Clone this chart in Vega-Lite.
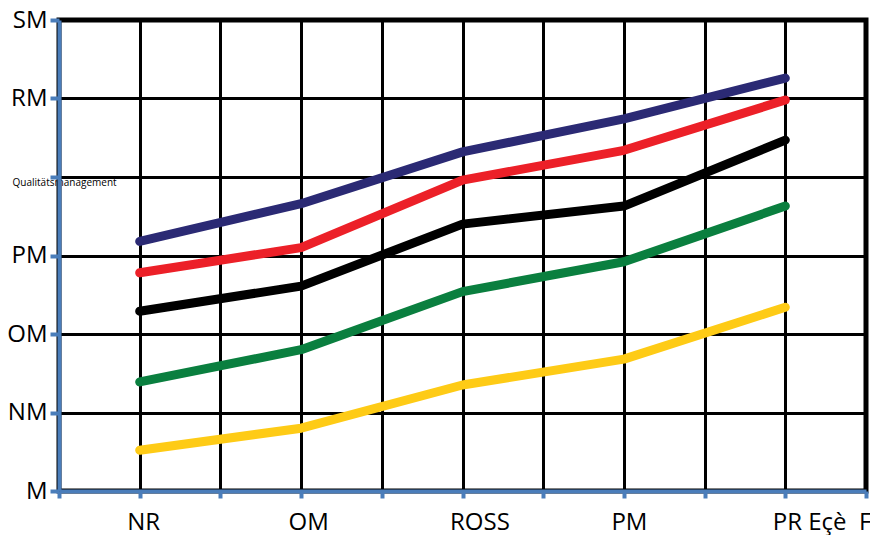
{
  "$schema": "https://vega.github.io/schema/vega-lite/v6.json",
  "width": 807,
  "height": 471,
  "autosize": {"type": "none"},
  "padding": {"left": 59, "top": 20, "right": 4, "bottom": 44},
  "background": "white",
  "config": {
    "font": "Open Sans",
    "view": {"stroke": "black", "strokeWidth": 5}
  },
  "data": {
    "values": [
      {"series": "blue", "x": 1, "y": 31.8},
      {"series": "blue", "x": 3, "y": 36.6},
      {"series": "blue", "x": 5, "y": 43.2},
      {"series": "blue", "x": 7, "y": 47.4},
      {"series": "blue", "x": 9, "y": 52.6},
      {"series": "red", "x": 1, "y": 27.8},
      {"series": "red", "x": 3, "y": 31.0},
      {"series": "red", "x": 5, "y": 39.6},
      {"series": "red", "x": 7, "y": 43.4},
      {"series": "red", "x": 9, "y": 49.8},
      {"series": "black", "x": 1, "y": 22.9},
      {"series": "black", "x": 3, "y": 26.1},
      {"series": "black", "x": 5, "y": 34.0},
      {"series": "black", "x": 7, "y": 36.3},
      {"series": "black", "x": 9, "y": 44.7},
      {"series": "green", "x": 1, "y": 13.9},
      {"series": "green", "x": 3, "y": 18.0},
      {"series": "green", "x": 5, "y": 25.4},
      {"series": "green", "x": 7, "y": 29.2},
      {"series": "green", "x": 9, "y": 36.3},
      {"series": "yellow", "x": 1, "y": 5.2},
      {"series": "yellow", "x": 3, "y": 8.0},
      {"series": "yellow", "x": 5, "y": 13.5},
      {"series": "yellow", "x": 7, "y": 16.8},
      {"series": "yellow", "x": 9, "y": 23.4}
    ]
  },
  "mark": {"type": "line", "strokeWidth": 9, "strokeCap": "round", "strokeJoin": "round"},
  "encoding": {
    "x": {
      "field": "x",
      "type": "quantitative",
      "scale": {"domain": [0, 10], "nice": false, "zero": false},
      "axis": {
        "title": null,
        "values": [0, 1, 2, 3, 4, 5, 6, 7, 8, 9, 10],
        "labelExpr": "datum.value == 1 ? 'NR' : datum.value == 3 ? 'OM' : datum.value == 5 ? 'ROSS' : datum.value == 7 ? 'PM' : datum.value == 9 ? 'PR Eçè\u00a0\u00a0F' : ''",
        "labelAlign": "left",
        "labelOffset": -13,
        "labelFontSize": 24,
        "labelColor": "black",
        "labelPadding": 12,
        "labelOverlap": false,
        "labelFlush": false,
        "domainColor": "#4a7dba",
        "domainWidth": 4,
        "tickColor": "#4a7dba",
        "tickWidth": 4,
        "tickSize": 7,
        "grid": true,
        "gridColor": "black",
        "gridWidth": 3,
        "gridOpacity": 1
      }
    },
    "y": {
      "field": "y",
      "type": "quantitative",
      "scale": {"domain": [0, 60], "nice": false, "zero": false},
      "axis": {
        "title": null,
        "values": [0, 10, 20, 30, 40, 50, 60],
        "labelExpr": "datum.value == 0 ? 'M' : datum.value == 10 ? 'NM' : datum.value == 20 ? 'OM' : datum.value == 30 ? 'PM' : datum.value == 40 ? 'Qualitätsmanagement' : datum.value == 50 ? 'RM' : 'SM'",
        "labelFontSize": {"condition": {"test": "datum.value == 40", "value": 10}, "value": 24},
        "labelAlign": {"condition": {"test": "datum.value == 40", "value": "left"}, "value": "right"},
        "labelPadding": {"condition": {"test": "datum.value == 40", "value": 38}, "value": 3},
        "labelOffset": {"condition": {"test": "datum.value == 40", "value": 5}, "value": 0},
        "labelColor": "black",
        "labelOverlap": false,
        "labelFlush": false,
        "domainColor": "#4a7dba",
        "domainWidth": 4,
        "tickColor": "#4a7dba",
        "tickWidth": 4,
        "tickSize": 9,
        "grid": true,
        "gridColor": "black",
        "gridWidth": 3,
        "gridOpacity": 1
      }
    },
    "color": {
      "field": "series",
      "type": "nominal",
      "scale": {
        "domain": ["blue", "red", "black", "green", "yellow"],
        "range": ["#2b2a74", "#ec2028", "#000000", "#0a7f3f", "#fecb16"]
      },
      "legend": null
    }
  }
}
